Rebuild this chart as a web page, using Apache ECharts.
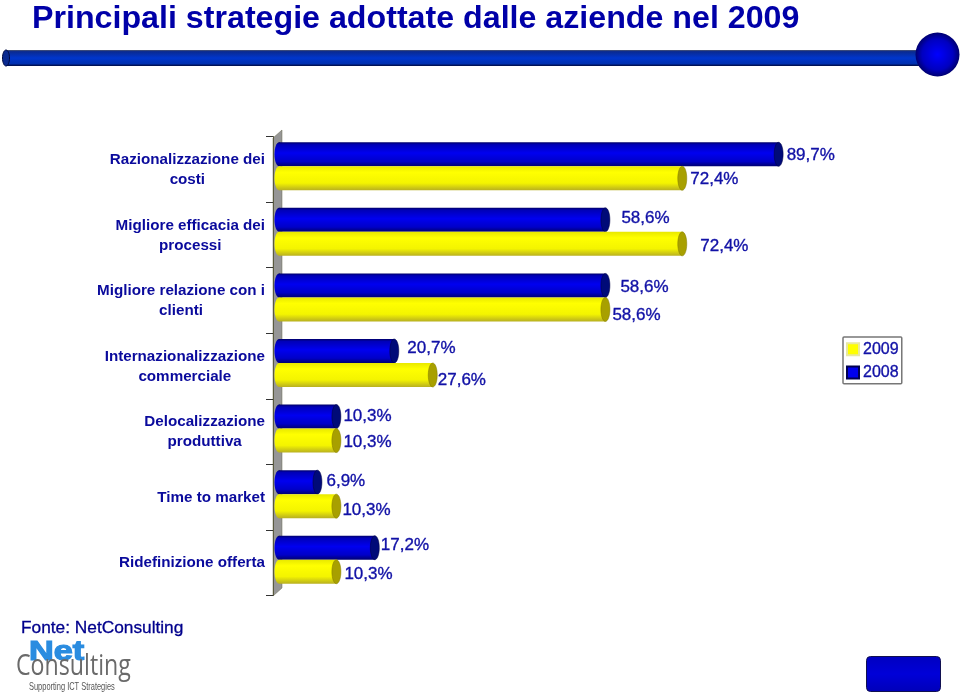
<!DOCTYPE html>
<html><head><meta charset="utf-8">
<style>html,body{margin:0;padding:0;background:#fff}#c{width:960px;height:693px}</style>
<script src="https://cdn.jsdelivr.net/npm/echarts@6/dist/echarts.min.js"></script>
</head><body><div id="c"></div>
<script>
const categories = ['Razionalizzazione dei\ncosti','Migliore efficacia dei\nprocessi','Migliore relazione con i\nclienti','Internazionalizzazione\ncommerciale','Delocalizzazione\nproduttiva','Time to market','Ridefinizione offerta'];
const values2008 = [89.7,58.6,58.6,20.7,10.3,6.9,17.2];
const values2009 = [72.4,72.4,58.6,27.6,10.3,10.3,10.3];
const seriesNames = ['2009','2008'];
// manual label nudges of the original slide [dx, dy]
const shift2008 = [[8,1],[16,-2],[15,2],[13,-3],[7,0],[9,-1],[6,-2]];
const shift2009 = [[8,1],[18,2],[7,6],[5,5],[7,2],[6,4],[8,3]];
const BLUE_TXT = '#1111a6';

function vGrad(stops){return new echarts.graphic.LinearGradient(0,0,0,1,stops.map(c=>({offset:c[0],color:c[1]})));}
const looks = {
  '2008':{body:[[0,'#00006a'],[0.1,'#0000b8'],[0.45,'#0000f0'],[0.8,'#0000c8'],[1,'#000070']],cap:'#000a78',edge:'#000040',from:-27,to:-3},
  '2009':{body:[[0,'#e8e800'],[0.25,'#ffff00'],[0.7,'#f4f400'],[1,'#b8b020']],cap:'#a8a000',edge:'#807800',from:-3,to:21}
};
function makeSeries(name,vals,shifts){
  const lk=looks[name];
  return {type:'custom',name,coordinateSystem:'cartesian2d',clip:false,z:5,
    itemStyle:{color:name==='2008'?'#0000ee':'#ffff00',borderColor:name==='2008'?'#000050':'#e8e8a0',borderWidth:1},
    encode:{x:0,y:1},
    data:vals.map((v,i)=>[v,i]),
    renderItem(params,api){
      const i=api.value(1),v=api.value(0);
      const end=api.coord([v,i]);const start=api.coord([0,i]);
      const y0=end[1]+lk.from,h=lk.to-lk.from,cy=y0+h/2,rx=4.5;
      const sh=shifts[i];
      return {type:'group',children:[
        {type:'ellipse',shape:{cx:start[0],cy,rx,ry:h/2},style:{fill:vGrad(lk.body)}},
        {type:'rect',shape:{x:start[0],y:y0,width:end[0]-start[0],height:h},style:{fill:vGrad(lk.body)}},
        {type:'ellipse',shape:{cx:end[0],cy,rx,ry:h/2},style:{fill:lk.cap,stroke:lk.edge,lineWidth:0.5}},
        {type:'text',x:end[0]+sh[0],y:cy+sh[1],style:{text:v.toFixed(1).replace('.',',')+'%',fill:BLUE_TXT,stroke:BLUE_TXT,lineWidth:0.35,font:'17px "Liberation Sans"',textAlign:'left',textVerticalAlign:'middle'}}
      ]};
    }};
}
const chart=echarts.init(document.getElementById('c'),null,{renderer:'canvas'});
chart.setOption({
  animation:false,backgroundColor:'#fff',
  title:{text:'Principali strategie adottate dalle aziende nel 2009',left:32,top:3,padding:0,textStyle:{color:'#0000a8',fontFamily:'Liberation Sans',fontWeight:'bold',fontSize:32.2}},
  legend:{data:seriesNames,orient:'vertical',left:843,top:337,icon:'rect',itemWidth:12,itemHeight:12,itemGap:7,padding:[4,3,3,3],
    borderColor:'#777',borderWidth:1.5,borderRadius:1,backgroundColor:'#fff',selectedMode:false,
    textStyle:{color:BLUE_TXT,fontFamily:'Liberation Sans',fontSize:16,padding:[1,0,0,-1],textBorderColor:BLUE_TXT,textBorderWidth:0.35}},
  grid:{left:273,top:136.5,width:563,height:459,containLabel:false},
  xAxis:{type:'value',min:-1.08,max:100,show:false},
  yAxis:{type:'category',inverse:true,data:categories,
    axisLine:{show:true,onZero:false,lineStyle:{color:'#5a5a40',width:1}},
    axisTick:{show:true,length:7,alignWithLabel:false,lineStyle:{color:'#333'}},
    axisLabel:{margin:8,align:'right',interval:0,
      formatter:t=>t.split('\n').map(l=>'{c|'+l+'}').join('\n'),
      rich:{c:{align:'center',color:'#0a0a9c',fontFamily:'Liberation Sans',fontWeight:'bold',fontSize:15.2,lineHeight:20,padding:[1,0,0,0]}}}},
  series:[makeSeries('2008',values2008,shift2008),makeSeries('2009',values2009,shift2009)],
  graphic:[
    // side wall of the 3D plot
    {type:'polygon',z:-1,shape:{points:[[273,138],[282,130],[282,588],[273,596]]},style:{fill:'#969696',stroke:'#6a6a50',lineWidth:0.5}},
    // header rule and ball
    {type:'rect',z:1,shape:{x:6,y:50,width:915,height:16},style:{fill:vGrad([[0,'#505870'],[0.1,'#0a2a90'],[0.5,'#0036cc'],[0.85,'#0030b0'],[1,'#000a40']])}},
    {type:'ellipse',z:2,shape:{cx:6,cy:58,rx:3.5,ry:8},style:{fill:'#0a2a90',stroke:'#000a40',lineWidth:1}},
    {type:'circle',z:3,shape:{cx:937.5,cy:54.5,r:22},style:{fill:new echarts.graphic.RadialGradient(0.5,0.5,0.5,[{offset:0,color:'#0000ff'},{offset:0.7,color:'#0000c0'},{offset:1,color:'#000070'}])}},
    // footer
    {type:'text',x:21,y:620,style:{text:'Fonte: NetConsulting',fill:'#00008c',stroke:'#00008c',lineWidth:0.3,font:'17.3px "Liberation Sans"'}},
    {type:'text',x:29,y:639,scaleX:1.27,z:3,style:{text:'Net',fill:'#2a8ce0',font:'900 27px "Liberation Sans"',stroke:'#2a8ce0',lineWidth:1.2}},
    {type:'text',x:16,y:652,scaleX:0.8,z:4,style:{text:'Consulting',fill:'#6a6a6a',font:'29px "Open Sans"'}},
    {type:'text',x:29,y:682,scaleX:0.71,style:{text:'Supporting ICT Strategies',fill:'#555',font:'10.5px "Liberation Sans"'}},
    {type:'rect',shape:{x:866.5,y:656.5,width:74,height:35,r:4},style:{fill:vGrad([[0,'#0000c0'],[0.5,'#0000d8'],[1,'#0000b8']]),stroke:'#101050',lineWidth:1}}
  ]
});
</script></body></html>
